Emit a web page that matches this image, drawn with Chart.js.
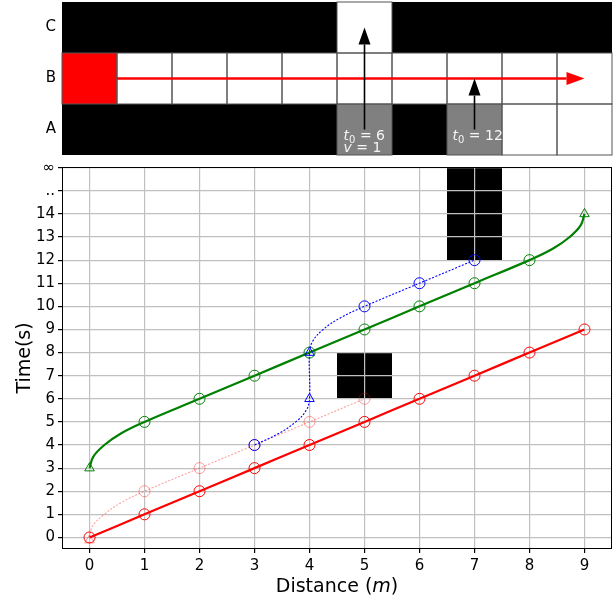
<!DOCTYPE html>
<html>
<head>
<meta charset="utf-8">
<script src="https://cdn.jsdelivr.net/npm/chart.js@4.4.1/dist/chart.umd.min.js"></script>
<style>
  html, body { margin: 0; padding: 0; background: #fff; }
  .panel { position: relative; width: 613px; }
  #top { height: 160px; }
  #bottom { height: 440px; }
</style>
</head>
<body>
<div class="panel" id="top"><canvas id="gridChart"></canvas></div>
<div class="panel" id="bottom"><canvas id="timeChart"></canvas></div>
<script>
// ---- top panel: corridor map (rows A..C, columns 0..9) ----
const rowLabels = ["A", "B", "C"];
const cellsA = ["k", "k", "k", "k", "k", "g", "k", "g", "w", "w"];
const cellsB = ["r", "w", "w", "w", "w", "w", "w", "w", "w", "w"];
const cellsC = ["k", "k", "k", "k", "k", "w", "k", "k", "k", "k"];

const arrowStartX = [0.5, 5, 7];
const arrowStartY = [1.5, 0.5, 0.5];
const arrowEndX = [9, 5, 7];
const arrowEndY = [1.5, 2.5, 1.5];

const noteX = [4.62, 4.62, 6.6];
const noteY = [0.29, 0.06, 0.29];
const noteVar = ["t", "v", "t"];
const noteSub = ["0", "", "0"];
const noteVal = ["6", "1", "12"];

// ---- bottom panel: time vs distance ----
const distTicks = [0, 1, 2, 3, 4, 5, 6, 7, 8, 9];
const timeTicks = [0, 1, 2, 3, 4, 5, 6, 7, 8, 9, 10, 11, 12, 13, 14, 15, 16];
const timeTickLabels = ["0", "1", "2", "3", "4", "5", "6", "7", "8", "9", "10", "11", "12", "13", "14", "..", "\u221e"];

const redDist = [0, 1, 2, 3, 4, 5, 6, 7, 8, 9];
const redTime = [0, 1, 2, 3, 4, 5, 6, 7, 8, 9];

const pinkPathDist = [0, 0.06, 0.27, 0.57, 1, 2, 3, 4, 5];
const pinkPathTime = [0, 0.5, 1, 1.5, 2, 3, 4, 5, 6];
const pinkCircleDist = [1, 2, 3, 4, 5];
const pinkCircleTime = [2, 3, 4, 5, 6];
const pinkTriDist = [0];
const pinkTriTime = [-0.12];

const bluePathDist = [3, 3.44, 3.75, 3.94, 4, 4, 4.06, 4.25, 4.56, 5, 6, 7];
const bluePathTime = [4, 4.5, 5, 5.5, 6, 8, 8.5, 9, 9.5, 10, 11, 12];
const blueCircleDist = [3, 5, 6, 7];
const blueCircleTime = [4, 10, 11, 12];
const blueTriDist = [4, 4];
const blueTriTime = [6, 8];

const greenPathDist = [0, 0.07, 0.27, 0.57, 1, 2, 3, 4, 5, 6, 7, 8, 8.43, 8.73, 8.93, 9];
const greenPathTime = [3, 3.5, 4, 4.5, 5, 6, 7, 8, 9, 10, 11, 12, 12.5, 13, 13.5, 14];
const greenCircleDist = [1, 2, 3, 4, 5, 6, 7, 8];
const greenCircleTime = [5, 6, 7, 8, 9, 10, 11, 12];
const greenTriDist = [0, 9];
const greenTriTime = [3, 14];

// blocked cells in the time chart (distance column, time from..to)
const blockDist = [5, 7];
const blockFrom = [6, 12];
const blockTo = [8, 16];

const FONT = "DejaVu Sans";
const PINK = "rgba(255,0,0,0.38)";
Chart.defaults.font.family = FONT;
Chart.defaults.color = "#000";

const cellColors = { k: "#000000", w: "#ffffff", r: "#ff0000", g: "#808080" };

function zip(xs, ys) {
    return xs.map((x, i) => ({ x: x, y: ys[i] }));
}

// fixed gutters so both panels share the same plot edges
function noPad(s) {
    s.paddingTop = 0;
    s.paddingBottom = 0;
    s.paddingLeft = 0;
    s.paddingRight = 0;
}

function drawArrow(ctx, x0, y0, x1, y1, color, width, headLen, headW) {
    const dx = x1 - x0, dy = y1 - y0;
    const len = Math.hypot(dx, dy);
    const ux = dx / len, uy = dy / len;
    const bx = x1 - ux * headLen, by = y1 - uy * headLen;
    ctx.save();
    ctx.strokeStyle = color;
    ctx.fillStyle = color;
    ctx.lineWidth = width;
    ctx.beginPath();
    ctx.moveTo(x0, y0);
    ctx.lineTo(bx, by);
    ctx.stroke();
    ctx.beginPath();
    ctx.moveTo(x1, y1);
    ctx.lineTo(bx - uy * headW / 2, by + ux * headW / 2);
    ctx.lineTo(bx + uy * headW / 2, by - ux * headW / 2);
    ctx.closePath();
    ctx.fill();
    ctx.restore();
}

const corridorPlugin = {
    id: "corridor",
    beforeDraw(chart) {
        const { ctx, scales: { x, y } } = chart;
        ctx.save();
        [cellsA, cellsB, cellsC].forEach((row, r) => {
            row.forEach((code, c) => {
                const x0 = x.getPixelForValue(c - 0.5), x1 = x.getPixelForValue(c + 0.5);
                const y0 = y.getPixelForValue(r + 1), y1 = y.getPixelForValue(r);
                ctx.fillStyle = cellColors[code];
                ctx.fillRect(x0, y0, x1 - x0, y1 - y0);
            });
        });
        ctx.strokeStyle = "#555";
        ctx.lineWidth = 1;
        [cellsA, cellsB, cellsC].forEach((row, r) => {
            row.forEach((code, c) => {
                if (code === "k") return;
                const x0 = x.getPixelForValue(c - 0.5), x1 = x.getPixelForValue(c + 0.5);
                const y0 = y.getPixelForValue(r + 1), y1 = y.getPixelForValue(r);
                ctx.strokeRect(x0, y0, x1 - x0, y1 - y0);
            });
        });
        ctx.restore();
    },
    afterDraw(chart) {
        const { ctx, scales: { x, y } } = chart;
        arrowStartX.forEach((sx, i) => {
            const red = i === 0;
            drawArrow(ctx,
                x.getPixelForValue(sx), y.getPixelForValue(arrowStartY[i]),
                x.getPixelForValue(arrowEndX[i]), y.getPixelForValue(arrowEndY[i]),
                red ? "#ff0000" : "#000000", red ? 2.5 : 1.6, red ? 18 : 17, red ? 13 : 12);
        });
        ctx.save();
        ctx.fillStyle = "#f4f4f4";
        ctx.textBaseline = "alphabetic";
        noteX.forEach((nx, i) => {
            let px = x.getPixelForValue(nx);
            const py = y.getPixelForValue(noteY[i]);
            ctx.font = "italic 14px " + FONT;
            ctx.fillText(noteVar[i], px, py);
            px += ctx.measureText(noteVar[i]).width;
            if (noteSub[i]) {
                ctx.font = "10px " + FONT;
                ctx.fillText(noteSub[i], px, py + 3);
                px += ctx.measureText(noteSub[i]).width;
            }
            ctx.font = "14px " + FONT;
            ctx.fillText(" = " + noteVal[i], px, py);
        });
        ctx.restore();
    }
};

new Chart(document.getElementById("gridChart"), {
    type: "scatter",
    data: { datasets: [] },
    plugins: [corridorPlugin],
    options: {
        responsive: true,
        maintainAspectRatio: false,
        animation: false,
        events: [],
        layout: { autoPadding: false, padding: { top: 2, right: 1, bottom: 5, left: 0 } },
        plugins: { legend: { display: false }, tooltip: { enabled: false } },
        scales: {
            x: { display: false, min: -0.5, max: 9.5 },
            y: {
                min: 0, max: 3,
                afterBuildTicks: (s) => { s.ticks = [0.5, 1.5, 2.5].map(v => ({ value: v })); },
                afterFit: (s) => { s.width = 62; noPad(s); },
                grid: { display: false, drawTicks: false },
                border: { display: false },
                ticks: {
                    font: { size: 15 }, padding: 6,
                    callback: (v) => rowLabels[Math.floor(v)]
                }
            }
        }
    }
});

const timePlugin = {
    id: "timeDecor",
    beforeDraw(chart) {
        const { ctx, scales: { x, y } } = chart;
        ctx.save();
        ctx.fillStyle = "#000";
        blockDist.forEach((d, i) => {
            const x0 = x.getPixelForValue(d - 0.5), x1 = x.getPixelForValue(d + 0.5);
            const y0 = y.getPixelForValue(blockTo[i]), y1 = y.getPixelForValue(blockFrom[i]);
            ctx.fillRect(x0, y0, x1 - x0, y1 - y0);
        });
        ctx.restore();
    },
    afterDraw(chart) {
        const { ctx, chartArea: a } = chart;
        ctx.save();
        ctx.strokeStyle = "#000";
        ctx.lineWidth = 1;
        ctx.strokeRect(a.left + 0.5, a.top + 0.5, a.right - a.left - 1, a.bottom - a.top - 1);
        // y title
        ctx.fillStyle = "#000";
        ctx.font = "19px " + FONT;
        ctx.textAlign = "center";
        ctx.textBaseline = "middle";
        ctx.translate(25, (a.top + a.bottom) / 2);
        ctx.rotate(-Math.PI / 2);
        ctx.fillText("Time(s)", 0, 0);
        ctx.restore();
        // x title with italic m
        ctx.save();
        ctx.fillStyle = "#000";
        ctx.textBaseline = "alphabetic";
        const parts = [["Distance (", "19px "], ["m", "italic 19px "], [")", "19px "]];
        let total = 0;
        parts.forEach(p => { ctx.font = p[1] + FONT; total += ctx.measureText(p[0]).width; });
        let px = (a.left + a.right) / 2 - total / 2;
        const py = chart.height - 8;
        parts.forEach(p => {
            ctx.font = p[1] + FONT;
            ctx.fillText(p[0], px, py);
            px += ctx.measureText(p[0]).width;
        });
        ctx.restore();
    }
};

function path(xs, ys, color, width, dash) {
    return {
        data: zip(xs, ys), showLine: true, borderColor: color, borderWidth: width,
        borderDash: dash, pointRadius: 0, tension: 0.4, fill: false
    };
}
function marks(xs, ys, color, style) {
    return {
        data: zip(xs, ys), showLine: false, pointStyle: style,
        pointRadius: 5.5, pointBorderWidth: 1, pointBorderColor: color,
        pointBackgroundColor: "rgba(0,0,0,0)"
    };
}

new Chart(document.getElementById("timeChart"), {
    type: "scatter",
    data: {
        datasets: [
            marks(blueTriDist, blueTriTime, "#0000ff", "triangle"),
            marks(blueCircleDist, blueCircleTime, "#0000ff", "circle"),
            path(bluePathDist, bluePathTime, "#0000ff", 1.1, [2, 1.6]),
            marks(redDist, redTime, "#ff0000", "circle"),
            path(redDist, redTime, "#ff0000", 2.2, []),
            marks(greenTriDist, greenTriTime, "#008000", "triangle"),
            marks(greenCircleDist, greenCircleTime, "#008000", "circle"),
            path(greenPathDist, greenPathTime, "#008000", 2.2, []),
            marks(pinkTriDist, pinkTriTime, PINK, "triangle"),
            marks(pinkCircleDist, pinkCircleTime, PINK, "circle"),
            path(pinkPathDist, pinkPathTime, PINK, 1.1, [2, 1.6])
        ]
    },
    plugins: [timePlugin],
    options: {
        responsive: true,
        maintainAspectRatio: false,
        animation: false,
        events: [],
        layout: { autoPadding: false, padding: { top: 7, right: 1, bottom: 0, left: 0 } },
        plugins: { legend: { display: false }, tooltip: { enabled: false } },
        scales: {
            x: {
                min: -0.5, max: 9.5,
                afterBuildTicks: (s) => { s.ticks = distTicks.map(v => ({ value: v })); },
                afterFit: (s) => { s.height = 51; noPad(s); },
                grid: { color: "#c0c0c0", lineWidth: 1.2, tickColor: "#000", tickLength: 4 },
                border: { display: false },
                ticks: { font: { size: 15 }, padding: 4, maxRotation: 0, callback: (v) => String(v) }
            },
            y: {
                min: -0.5, max: 16.03,
                afterBuildTicks: (s) => { s.ticks = timeTicks.map(v => ({ value: v })); },
                afterFit: (s) => { s.width = 62; noPad(s); },
                grid: { color: "#c0c0c0", lineWidth: 1.2, tickColor: "#000", tickLength: 4 },
                border: { display: false },
                ticks: {
                    font: { size: 15 }, padding: 3,
                    callback: (v) => timeTickLabels[timeTicks.indexOf(v)]
                }
            }
        }
    }
});
</script>
</body>
</html>
